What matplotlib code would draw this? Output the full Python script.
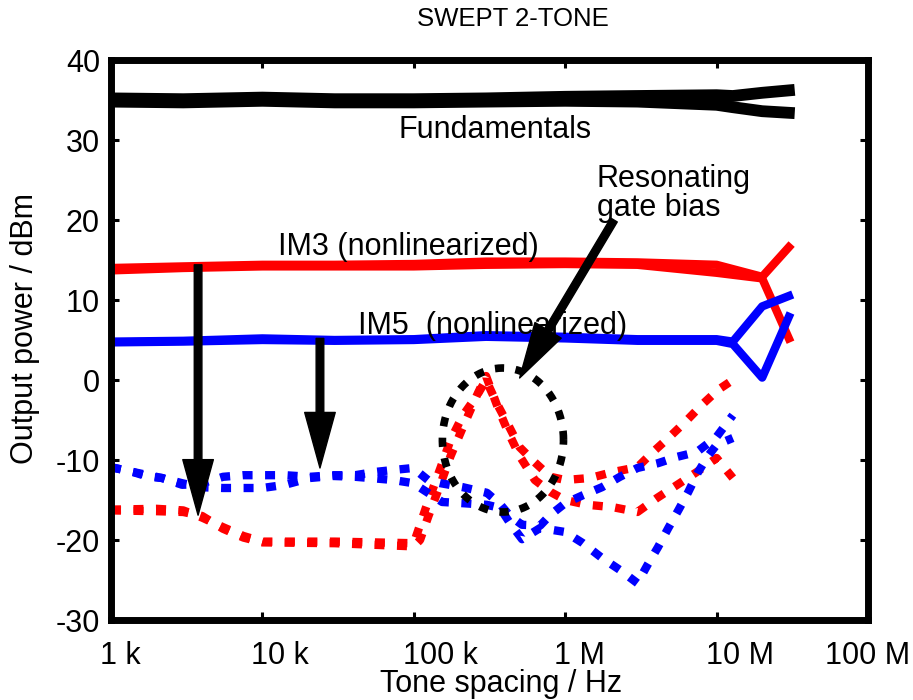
import numpy as np
import matplotlib.pyplot as plt
import matplotlib.transforms as mtransforms

plt.rcParams['font.family'] = ['Liberation Sans', 'DejaVu Sans']
plt.rcParams['axes.unicode_minus'] = False

# Fundamentals (two tones)
fund_f = [1e3, 3e3, 1e4, 3e4, 1e5, 3e5, 1e6, 3e6, 1e7, 1.28e7, 2e7, 3e7]
fund_hi = [35.2, 35.1, 35.3, 35.1, 35.1, 35.2, 35.4, 35.5, 35.6, 35.5, 35.9, 36.2]
fund_lo = [34.8, 34.7, 34.9, 34.7, 34.7, 34.8, 34.9, 34.8, 34.4, 34.1, 33.6, 33.4]

# IM3 (nonlinearized), two sidebands
im3_f = [1e3, 3e3, 1e4, 3e4, 1e5, 3e5, 1e6, 3e6, 1e7, 2e7, 3e7]
im3_a = [14.0, 14.2, 14.4, 14.4, 14.5, 14.8, 14.8, 14.7, 14.4, 12.9, 16.6]
im3_b = [13.7, 14.0, 14.2, 14.2, 14.2, 14.4, 14.5, 14.4, 13.4, 12.7, 5.2]

# IM5 (nonlinearized)
im5_f = [1e3, 3e3, 1e4, 3e4, 1e5, 3e5, 1e6, 3e6, 1e7, 1.28e7, 2e7, 3e7]
im5_a = [4.8, 4.9, 5.2, 5.0, 5.1, 5.6, 5.4, 5.1, 5.1, 4.8, 9.2, 10.5]
im5_b = [4.7, 4.8, 5.0, 4.9, 5.0, 5.4, 5.2, 4.9, 4.9, 4.5, 0.3, 7.9]

# IM3 linearized (dotted red)
im3lin_fa = [1e3, 2e3, 3e3, 4e3, 5.5e3, 7.5e3, 1e4, 3e4, 1e5, 1.2e5, 1.5e5, 1.75e5,
             2.1e5, 2.6e5, 3e5, 3.55e5, 4.2e5, 5e5, 6.3e5, 8e5, 1e6, 1.46e6, 2.07e6,
             3e6, 3.8e6, 4.9e6, 6.2e6, 8e6, 1.02e7, 1.28e7]
im3lin_a = [-16.2, -16.1, -16.3, -17.2, -18.4, -19.5, -20.2, -20.2, -20.4, -16.0, -11.0, -7.5,
            -4.5, -2.0, 0.0, -3.0, -5.6, -8.4, -10.3, -12.1, -12.5, -12.25, -11.5,
            -10.9, -9.0, -7.1, -5.25, -3.1, -1.25, 0.0]
im3lin_fb = [1e3, 2e3, 3e3, 4e3, 5.5e3, 7.5e3, 1e4, 3e4, 1e5, 1.1e5, 1.25e5, 1.5e5, 1.75e5,
             2.1e5, 2.6e5, 3e5, 3.6e5, 4.2e5, 5e5, 6.3e5, 8e5, 1e6, 1.4e6, 2.07e6, 3e6,
             4.04e6, 5.5e6, 7.4e6, 1e7, 1.28e7]
im3lin_b = [-16.3, -16.4, -16.5, -17.0, -18.6, -19.7, -20.3, -20.4, -20.8, -20.0, -17.0, -13.0, -9.5,
            -6.0, -2.0, 0.5, -3.5, -6.5, -9.5, -12.5, -14.0, -15.0, -15.6, -15.9, -16.5,
            -14.75, -13.1, -11.5, -9.75, -12.25]

# IM5 linearized (dotted blue)
im5lin_fa = [1e3, 1.4e3, 1.76e3, 2.17e3, 2.95e3, 3.87e3, 5.5e3, 7.4e3, 1e4, 1.41e4, 2.06e4,
             2.93e4, 4.1e4, 5.5e4, 7.3e4, 9.9e4, 1.24e5, 1.54e5, 2.11e5, 3.04e5, 3.71e5,
             4.32e5, 5.19e5, 6.83e5, 1e6, 1.31e6, 1.75e6, 2.3e6, 3e6, 3.5e6, 4.1e6, 4.8e6,
             5.6e6, 6.5e6, 7.5e6, 8.7e6, 1e7, 1.28e7]
im5lin_a = [-10.9, -11.5, -12.1, -12.25, -12.9, -13.4, -13.5, -13.5, -13.5, -13.1, -12.25,
            -12.0, -12.1, -12.3, -12.5, -12.9, -14.1, -15.25, -15.4, -15.6, -16.0,
            -17.9, -19.9, -18.5, -19.0, -20.4, -22.25, -23.75, -25.4, -23.1, -20.9, -18.5,
            -16.25, -14.0, -11.6, -9.6, -8.1, -7.25]
im5lin_fb = [1e3, 1.4e3, 2.17e3, 2.95e3, 3.87e3, 5.5e3, 7.4e3, 1e4, 1.41e4, 2.06e4, 2.93e4,
             4.1e4, 5.5e4, 7.3e4, 9.9e4, 1.24e5, 1.5e5, 2.11e5, 3.04e5, 3.71e5, 4.32e5,
             5.19e5, 6.83e5, 7.94e5, 1e6, 1.31e6, 1.75e6, 2.3e6, 3e6, 4.1e6, 5.5e6, 7.4e6,
             1e7, 1.28e7]
im5lin_b = [-10.9, -11.5, -12.25, -13.1, -13.0, -12.1, -11.9, -11.9, -11.9, -12.1, -11.9,
            -11.9, -11.5, -11.25, -11.0, -12.5, -12.9, -13.4, -14.1, -15.5, -17.0,
            -18.1, -18.2, -16.9, -15.4, -14.4, -13.4, -12.1, -11.0, -10.4, -9.6, -9.0,
            -7.1, -4.4]

# x tick labels
xticks = [1e3, 1e4, 1e5, 1e6, 1e7, 1e8]
xticklabels = ['1 k', '10 k', '100 k', '1 M', '10 M', '100 M']
yticks = [-30, -20, -10, 0, 10, 20, 30, 40]

# dotted circle round the resonance (centre in Hz / dBm, half sizes in decades / dB)
circ_f, circ_y = 3.88e5, -7.5
circ_rx, circ_ry = 0.40, 9.0

fig = plt.figure(figsize=(9.13, 7.0), dpi=100)
ax = fig.add_axes([111 / 913, 80 / 700, 757 / 913, 560 / 700])

dots = (0, (1.2, 1.5))
ax.plot(im3lin_fa, im3lin_a, color='red', lw=6, ls=dots, dash_capstyle='butt')
ax.plot(im3lin_fb, im3lin_b, color='red', lw=6, ls=dots, dash_capstyle='butt')
ax.plot(im5lin_fa, im5lin_a, color='blue', lw=6, ls=dots, dash_capstyle='butt')
ax.plot(im5lin_fb, im5lin_b, color='blue', lw=6, ls=dots, dash_capstyle='butt')

t = np.linspace(0, 2 * np.pi, 200)
ax.plot(10 ** (np.log10(circ_f) + circ_rx * np.cos(t)), circ_y + circ_ry * np.sin(t),
        color='black', lw=5.5, ls=dots, dash_capstyle='butt')

ax.plot(fund_f, fund_hi, color='black', lw=8.5, solid_joinstyle='miter')
ax.plot(fund_f, fund_lo, color='black', lw=8.5, solid_joinstyle='miter')
ax.plot(im3_f, im3_a, color='red', lw=6)
ax.plot(im3_f, im3_b, color='red', lw=6)
ax.plot(im5_f, im5_a, color='blue', lw=6)
ax.plot(im5_f, im5_b, color='blue', lw=6)

arrow = dict(facecolor='black', edgecolor='black', width=5.5, headwidth=22,
             headlength=40, shrink=0)
ax.annotate('', xy=(3.76e3, -16.9), xytext=(3.76e3, 14.4), arrowprops=arrow)
ax.annotate('', xy=(2.4e4, -11.0), xytext=(2.4e4, 5.2), arrowprops=arrow)
ax.annotate('', xy=(5.0e5, 0.25), xytext=(2.1e6, 20.0), arrowprops=arrow)

fs = 22
ax.text(3.45e5, 31.2, 'Fundamentals', fontsize=fs, ha='center', va='center')
ax.text(9.2e4, 16.6, 'IM3 (nonlinearized)', fontsize=fs, ha='center', va='center')
ax.text(3.3e5, 6.8, 'IM5  (nonlinearized)', fontsize=fs, ha='center', va='center')
ax.text(1.62e6, 23.3, 'Resonating\ngate bias', fontsize=fs, ha='left', va='center',
        linespacing=0.95)

ax.set_xscale('log')
ax.set_xlim(1e3, 1e8)
ax.set_ylim(-30, 40)
ax.set_xticks(xticks)
ax.set_xticklabels(xticklabels)
ax.set_yticks(yticks)
ax.minorticks_off()
ax.tick_params(direction='in', length=6, width=2.2, labelsize=fs,
               top=True, right=True)
ax.tick_params(axis='x', pad=15)
ax.tick_params(axis='y', pad=8)
for s in ax.spines.values():
    s.set_linewidth(5)

# tick labels of the original sit a little to the right of their ticks
shift = mtransforms.ScaledTranslation(-0.11, 0, fig.dpi_scale_trans)
for lab in ax.get_xticklabels()[:-1]:
    lab.set_ha('left')
    lab.set_transform(lab.get_transform() + shift)

ax.set_xlabel('Tone spacing / Hz', fontsize=fs)
ax.xaxis.set_label_coords(0.515, -0.088)
ax.set_ylabel('Output power / dBm', fontsize=fs)
ax.yaxis.set_label_coords(-0.094, 0.52)

fig.text(513 / 913, 1 - 19 / 700, 'SWEPT 2-TONE', fontsize=18.5, ha='center', va='center')

fig.savefig('out.png', dpi=100)
